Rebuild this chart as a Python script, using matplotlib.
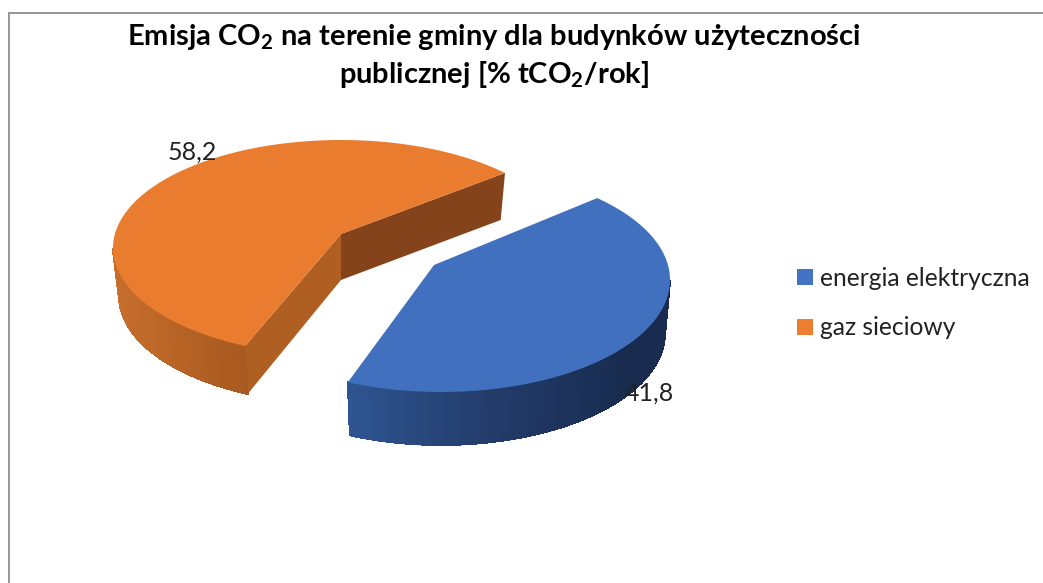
import numpy as np
import matplotlib
matplotlib.use('Agg')
import matplotlib.pyplot as plt
from matplotlib.collections import LineCollection, PolyCollection
from matplotlib.colors import LinearSegmentedColormap
from matplotlib.patches import Patch, Polygon

plt.rcParams['font.family'] = ['Lato', 'DejaVu Sans']
plt.rcParams['mathtext.fontset'] = 'custom'
plt.rcParams['mathtext.bf'] = 'Lato:bold'

labels = ['energia elektryczna', 'gaz sieciowy']
values = [41.8, 58.2]
value_labels = ['41,8', '58,2']
title_lines = [r'Emisja CO$_{\mathbf{2}}$ na terenie gminy dla budynków użyteczności',
               r'publicznej [% tCO$_{\mathbf{2}}$/rok]']

# perspective squeezes the two slices a bit differently
blue_span = values[0] * 3.6 * 1.07
orange_span = values[1] * 3.6 * 0.96


def arc(cx, cy, rx, ry, a0, a1, n=300):
    t = np.radians(np.linspace(a0, a1, n))
    return np.column_stack([cx + rx * np.cos(t), cy - ry * np.sin(t)])


def wall(ax, top, bottom, cmap):
    quads = [[top[i], top[i + 1], bottom[i + 1], bottom[i]] for i in range(len(top) - 1)]
    cols = cmap(np.linspace(0, 1, len(quads)))
    ax.add_collection(PolyCollection(quads, facecolors=cols, edgecolors=cols, linewidths=0.6, antialiaseds=False))
    # smooth the lower edge, the strips themselves are not antialiased
    segs = [[bottom[i], bottom[i + 1]] for i in range(len(bottom) - 1)]
    ax.add_collection(LineCollection(segs, colors=cols, linewidths=1.0))


fig = plt.figure(figsize=(10.43, 5.83), dpi=100)
ax = fig.add_axes([0, 0, 1, 1])
ax.set_xlim(0, 1043)
ax.set_ylim(583, 0)
ax.axis('off')

# chart frame, runs off the right and bottom of the screenshot
ax.plot([8.5, 8.5, 1043], [583, 13, 13], color='#8e8e8e', lw=1.3, solid_joinstyle='miter')

# orange slice
tip = np.array([341, 234])
a0, a1 = 44, 44 + orange_span
top = arc(341, 248, 228, 108, a0, a1)
bot = arc(341, 296, 222, 108, a0, a1)
ax.add_patch(Polygon([tip, top[0], bot[0] + [0, -1], tip + [0, 46]], color='#84431A', lw=0))
ax.add_patch(Polygon([tip, top[-1], bot[-1], tip + [0, 46]], color='#B05F23', lw=0))
i = np.searchsorted(np.linspace(a0, a1, 300), 180)
wall(ax, top[i:], bot[i:], LinearSegmentedColormap.from_list('o', ['#C8702E', '#BF692A', '#A95A20']))
ax.add_patch(Polygon(np.vstack([tip, top]), color='#EA7C30', lw=0))

# blue slice
tip = np.array([434, 265])
a0, a1 = 47 - blue_span, 47
top = arc(441, 280, 229, 112, a0, a1)
bot = arc(441, 333, 224, 112, a0, a1)
i = np.searchsorted(np.linspace(a0, a1, 300), 0)
wall(ax, top[:i], bot[:i], LinearSegmentedColormap.from_list('b', ['#2F5591', '#223B69', '#192C50', '#192C50']))
ax.add_patch(Polygon(np.vstack([tip, top]), color='#4170BF', lw=0))

# data labels
ax.text(192, 152, value_labels[1], fontsize=18, color='#222222', ha='center', va='center')
ax.text(649, 393, value_labels[0], fontsize=18, color='#222222', ha='center', va='center')

# title
ax.text(494, 45, title_lines[0], fontsize=21, fontweight='bold', color='black', ha='center', va='baseline')
ax.text(494, 83, title_lines[1], fontsize=21, fontweight='bold', color='black', ha='center', va='baseline')

handles = [Patch(color='#4472C4', lw=0), Patch(color='#ED7D31', lw=0)]
ax.legend(handles, labels, loc='upper left', bbox_to_anchor=(792, 262), bbox_transform=ax.transData,
          frameon=False, fontsize=17.7, handlelength=0.65, handleheight=0.65, handletextpad=0.28,
          labelspacing=1.08, labelcolor='#222222', borderpad=0.2, borderaxespad=0)

fig.savefig('out.png', dpi=100)
